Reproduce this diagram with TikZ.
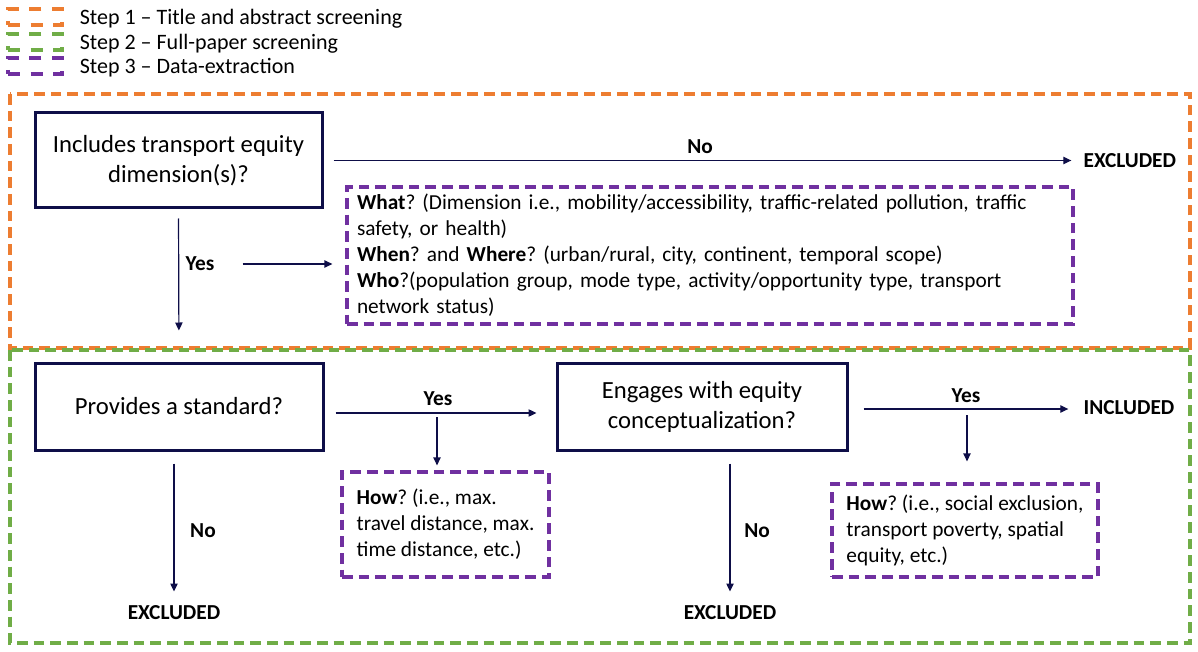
\documentclass[tikz,border=0pt]{standalone}
\usepackage{fontspec}
\setmainfont{Carlito}
\usetikzlibrary{arrows.meta,positioning}
\frenchspacing

\definecolor{stepone}{RGB}{237,125,49}
\definecolor{steptwo}{RGB}{112,173,71}
\definecolor{stepthree}{RGB}{112,48,160}
\definecolor{navy}{RGB}{14,14,72}

\tikzset{
	question/.style={draw=navy, line width=2.25pt, minimum height=65.25pt, align=center, font=\fontsize{18.5}{22.5}\selectfont},
	extract/.style={draw=stepthree, line width=2.4pt, dash pattern=on 8pt off 4.5pt, align=left, inner xsep=7.5pt, font=\fontsize{16}{19.5}\selectfont},
	stage/.style={line width=2.4pt, dash pattern=on 8pt off 4.5pt},
	keybox/.style={draw, line width=2.4pt, dash pattern=on 9pt off 8pt, minimum width=40.5pt, minimum height=12pt},
	legend/.style={font=\fontsize{16.5}{19.5}\selectfont, inner sep=2pt},
	flow/.style={draw=navy, line width=0.9pt, -{Triangle[length=6pt,width=5.5pt]}},
	lbl/.style={font=\fontsize{16}{19.5}\selectfont\bfseries, inner sep=1pt},
}

\begin{document}
\begin{tikzpicture}[x=0.75pt,y=0.75pt,yscale=-1,xscale=1]
	\useasboundingbox (0,0) rectangle (1198,652);
	% legend
	\node[keybox, draw=stepone] (key1) at (35,17) {};
	\node[keybox, draw=steptwo] (key2) at (35,42) {};
	\node[keybox, draw=stepthree] (key3) at (35,66) {};
	\node[legend, right=10pt of key1, yshift=-1pt] (leg1) {Step 1 – Title and abstract screening};
	\node[legend, right=10pt of key2, yshift=-1pt] (leg2) {Step 2 – Full-paper screening};
	\node[legend, right=10pt of key3, yshift=-1.5pt] (leg3) {Step 3 – Data-extraction};
	% screening steps
	\draw[stage, draw=stepone] (10,94) rectangle (1190,348);
	\draw[stage, draw=steptwo] (10,350) rectangle (1190,643);
	% step 1
	\node[question, minimum width=215.25pt, minimum height=71.25pt] (incl) at (178.5,160.5) {Includes transport equity\\dimension(s)?};
	\node[lbl, anchor=west] (excl1) at (1082,161) {EXCLUDED};
	\node[lbl] (no1) at (700,147) {No};
	\node[lbl] (yes1) at (200,264) {Yes};
	\node[extract, text width=529.5pt, minimum height=102.75pt] (what) at (710,255.5) {\textbf{What}? (Dimension i.e., mobility/accessibility, traffic-related pollution, traffic\\safety, or health)\\\textbf{When}? and \textbf{Where}? (urban/rural, city, continent, temporal scope)\\\textbf{Who}?(population group, mode type, activity/opportunity type, transport\\network status)};
	% step 2
	\node[question, minimum width=216pt] (prov) at (179,406.5) {Provides a standard?};
	\node[question, minimum width=217.5pt] (eng) at (702,406.5) {Engages with equity\\conceptualization?};
	\node[lbl] (yes2) at (438,399) {Yes};
	\node[lbl] (yes3) at (966,396) {Yes};
	\node[lbl, anchor=west] (inc) at (1082,408) {INCLUDED};
	\node[extract, minimum width=155.25pt, minimum height=78.75pt] (how1) at (445.5,524.5) {\textbf{How}? (i.e., max.\\travel distance, max.\\time distance, etc.)};
	\node[extract, minimum width=199.5pt, minimum height=69.75pt] (how2) at (965,530.5) {\textbf{How}? (i.e., social exclusion,\\transport poverty, spatial\\equity, etc.)};
	\node[lbl] (excl2) at (174,613) {EXCLUDED};
	\node[lbl] (excl3) at (730,613) {EXCLUDED};
	\node[lbl] (no2) at (203,531) {No};
	\node[lbl] (no3) at (757,531) {No};
	\coordinate (fork1) at (437,413);
	\coordinate (fork2) at (967,409);
	% arrows
	\draw[flow, shorten <=7.5pt, shorten >=8pt] (incl.east) -- (incl.east -| excl1.west);
	\draw[flow, shorten <=6.75pt, shorten >=23.25pt] (incl.south) -- (prov.north);
	\draw[flow, shorten <=20pt, shorten >=9.75pt] (yes1.east) -- (yes1.east -| what.west);
	\draw[flow, shorten <=8.25pt, shorten >=14.25pt] (prov.east |- fork1) -- (eng.west |- fork1);
	\draw[flow, shorten <=3pt, shorten >=3.75pt] (fork1) -- (fork1 |- how1.north);
	\draw[flow, shorten <=11.25pt, shorten >=10.25pt] (eng.east |- fork2) -- (inc.west |- fork2);
	\draw[flow, shorten <=4.5pt, shorten >=15.75pt] (fork2) -- (fork2 |- how2.north);
	\draw[flow, shorten <=9pt, shorten >=9.6pt] (excl2.north |- prov.south) -- (excl2.north);
	\draw[flow, shorten <=9pt, shorten >=9.6pt] (excl3.north |- eng.south) -- (excl3.north);
\end{tikzpicture}
\end{document}
